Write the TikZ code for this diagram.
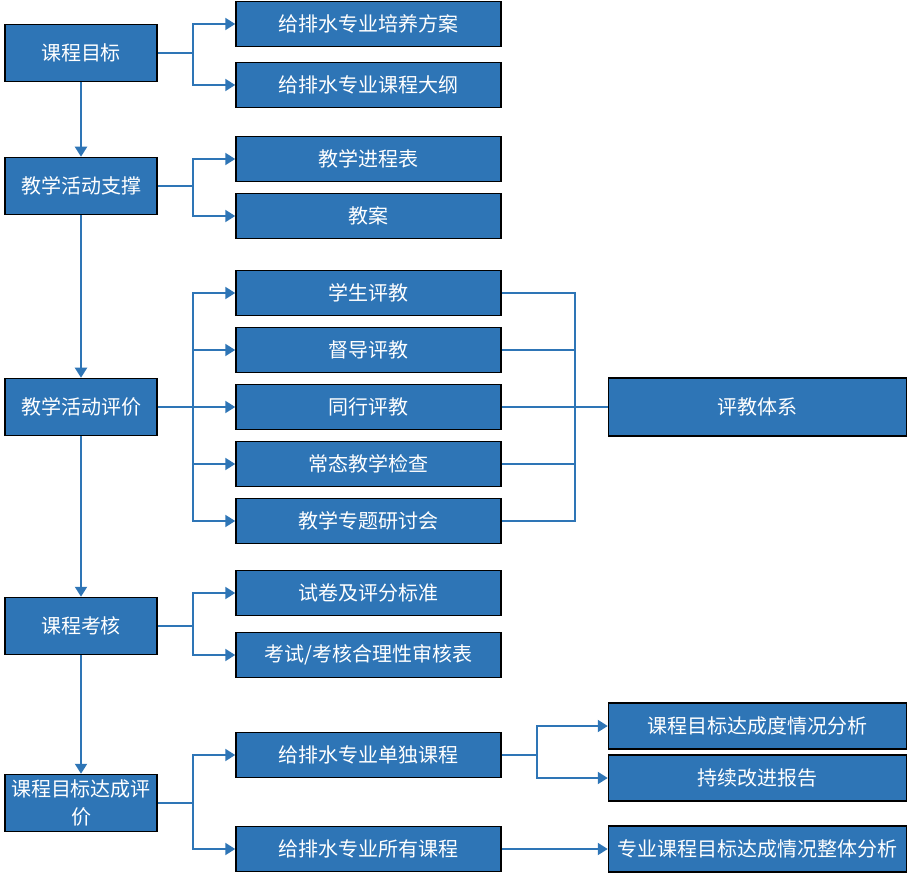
\documentclass[tikz,border=0pt]{standalone}
\usepackage{fontspec}
\newfontfamily\cjk{Noto Sans CJK SC}
\usetikzlibrary{positioning, arrows.meta}
\definecolor{boxblue}{RGB}{46,117,182}
\definecolor{lineblue}{RGB}{46,117,182}
\tikzset{
	box/.style={draw=black, line width=1.5pt, fill=boxblue, text=white, inner sep=0pt, align=center, font=\cjk\fontsize{20}{28}\selectfont},
	leftbox/.style={box, minimum width=152pt, minimum height=57pt},
	midbox/.style={box, minimum width=265pt, minimum height=45pt},
	rightbox/.style={box, minimum width=298pt, minimum height=46pt},
	arr/.style={draw=lineblue, line width=2pt, -{Triangle[length=10pt, width=12pt]}},
	link/.style={draw=lineblue, line width=2pt},
}

\begin{document}
\begin{tikzpicture}[x=1pt, y=-1pt]
	\useasboundingbox (0,0) rectangle (908,874);
	\node[leftbox] (goal) at (81, 53) {课程目标};
	\node[leftbox] (support) at (81, 186) {教学活动支撑};
	\node[leftbox] (evalu) at (81, 407) {教学活动评价};
	\node[leftbox] (exam) at (81, 626) {课程考核};
	\node[leftbox] (attain) at (81, 803) {课程目标达成评\\价};

	\node[midbox] (plan) at (368.5, 24) {给排水专业培养方案};
	\node[midbox] (syllabus) at (368.5, 85) {给排水专业课程大纲};
	\node[midbox] (schedule) at (368.5, 159) {教学进程表};
	\node[midbox] (lesson) at (368.5, 216) {教案};
	\node[midbox] (stu) at (368.5, 293) {学生评教};
	\node[midbox] (guide) at (368.5, 350) {督导评教};
	\node[midbox] (peer) at (368.5, 407) {同行评教};
	\node[midbox] (check) at (368.5, 464) {常态教学检查};
	\node[midbox] (seminar) at (368.5, 521) {教学专题研讨会};
	\node[midbox] (paper) at (368.5, 593) {试卷及评分标准};
	\node[midbox] (review) at (368.5, 655) {考试/考核合理性审核表};
	\node[midbox] (single) at (368.5, 755) {给排水专业单独课程};
	\node[midbox] (allc) at (368.5, 849) {给排水专业所有课程};

	\node[rightbox, minimum height=58pt] (system) at (757.5, 407) {评教体系};
	\node[rightbox] (degree) at (757.5, 726) {课程目标达成度情况分析};
	\node[rightbox] (report) at (757.5, 778) {持续改进报告};
	\node[rightbox] (whole) at (757.5, 849) {专业课程目标达成情况整体分析};

	\draw[arr] (goal) -- (support);
	\draw[arr] (support) -- (evalu);
	\draw[arr] (evalu) -- (exam);
	\draw[arr] (exam) -- (attain);

	\draw[arr] (goal.east) -- ++(35,0) |- (plan.west);
	\draw[arr] (goal.east) -- ++(35,0) |- (syllabus.west);
	\draw[arr] (support.east) -- ++(35,0) |- (schedule.west);
	\draw[arr] (support.east) -- ++(35,0) |- (lesson.west);
	\foreach \n in {stu, guide, peer, check, seminar} {
		\draw[arr] (evalu.east) -- ++(35,0) |- (\n.west);
		\draw[link] (\n.east) -- ++(73,0) |- (system.west);
	}
	\draw[arr] (exam.east) -- ++(35,0) |- (paper.west);
	\draw[arr] (exam.east) -- ++(35,0) |- (review.west);
	\draw[arr] (attain.east) -- ++(35,0) |- (single.west);
	\draw[arr] (attain.east) -- ++(35,0) |- (allc.west);
	\draw[arr] (single.east) -- ++(35,0) |- (degree.west);
	\draw[arr] (single.east) -- ++(35,0) |- (report.west);
	\draw[arr] (allc.east) -- (whole.west);
\end{tikzpicture}
\end{document}
